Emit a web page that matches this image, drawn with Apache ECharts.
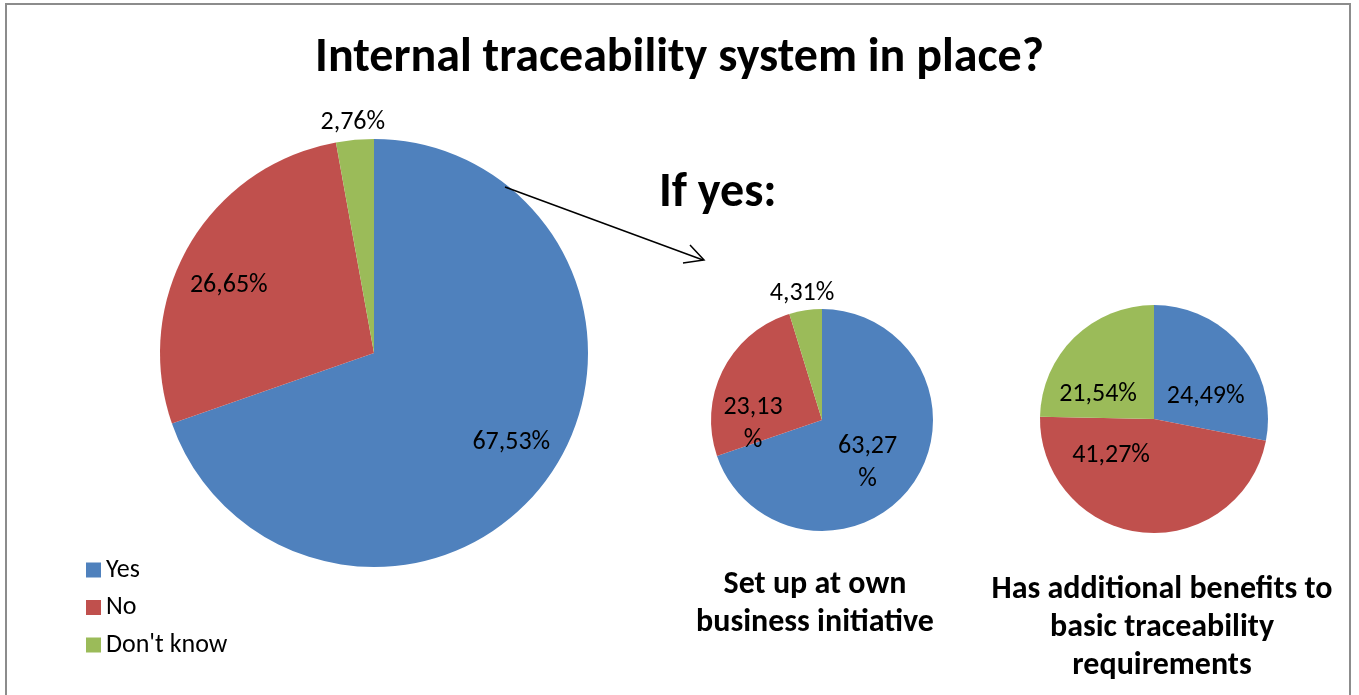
<!DOCTYPE html>
<html><head><meta charset="utf-8">
<script src="https://cdn.jsdelivr.net/npm/echarts@6/dist/echarts.min.js"></script>
<style>html,body{margin:0;padding:0;background:#fff}#c{width:1359px;height:695px}</style>
</head><body><div id="c"></div>
<script>
const categories = ['Yes', 'No', "Don't know"];
const mainValues = [67.53, 26.65, 2.76];
const ownInitiativeValues = [63.27, 23.13, 4.31];
const benefitsValues = [24.49, 41.27, 21.54];
const mainLabels = ['67,53%', '26,65%', '2,76%'];
const ownInitiativeLabels = ['63,27\n%', '23,13\n%', '4,31%'];
const benefitsLabels = ['24,49%', '41,27%', '21,54%'];
const titleText = 'Internal traceability system in place?';
const subTitle = 'If yes:';
const pieTitles = ['Set up at own\nbusiness initiative', 'Has additional benefits to\nbasic traceability\nrequirements'];

const colors = ['#4F81BD', '#C0504D', '#9BBB59'];
const FONT = 'Carlito, Lato, "Open Sans", sans-serif';

function buildPie(values, labels, center, r, innerRatio, outsideIdx, offsets) {
  const base = {
    type: 'pie', center: center, radius: [0, r], startAngle: 90, clockwise: true,
    animation: false, silent: true,
    label: { show: false }, labelLine: { show: false },
    itemStyle: { borderWidth: 0 },
    data: values.map((v, i) => ({ name: categories[i], value: v }))
  };
  const inner = {
    type: 'pie', center: center, radius: [r * innerRatio, r], startAngle: 90, clockwise: true,
    animation: false, silent: true, legendHoverLink: false,
    itemStyle: { color: 'rgba(0,0,0,0)' },
    labelLine: { show: false },
    data: values.map((v, i) => ({
      name: categories[i], value: v,
      label: {
        show: outsideIdx.indexOf(i) < 0, position: 'inside', formatter: labels[i],
        color: '#000', fontSize: 26, fontFamily: FONT, lineHeight: 33,
        offset: (offsets && offsets[i]) || [0, 0]
      }
    }))
  };
  const outer = {
    type: 'pie', center: center, radius: [r, r + 40], startAngle: 90, clockwise: true,
    animation: false, silent: true, legendHoverLink: false,
    itemStyle: { color: 'rgba(0,0,0,0)' },
    labelLine: { show: false },
    data: values.map((v, i) => ({
      name: categories[i], value: v,
      label: {
        show: outsideIdx.indexOf(i) >= 0, position: 'inside', formatter: labels[i],
        color: '#000', fontSize: 26, fontFamily: FONT, offset: [0, 6]
      }
    }))
  };
  return [base, inner, outer];
}

const chart = echarts.init(document.getElementById('c'));
const series = [].concat(
  buildPie(mainValues, mainLabels, [374, 353], 214, 0.5, [2], [[4, -5], [-4, 15]]),
  buildPie(ownInitiativeValues, ownInitiativeLabels, [822, 420], 111, 0.2, [2], [[-11, 3], [-7, 36]]),
  buildPie(benefitsValues, benefitsLabels, [1154, 419], 114, 0.1, [], [[1, 19], [-36, -29], [-10, 22]])
);

chart.setOption({
  backgroundColor: '#fff',
  color: colors,
  animation: false,
  title: [
    { text: titleText, left: 'center', top: 30, padding: 0, textStyle: { fontSize: 48, fontWeight: 'bold', fontFamily: FONT, color: '#000', lineHeight: 58 } },
    { text: subTitle, left: 659, top: 165, padding: 0, textStyle: { fontSize: 48, fontWeight: 'bold', fontFamily: FONT, color: '#000', lineHeight: 58 } },
    { text: pieTitles[0], left: 815, top: 566, padding: 0, textAlign: 'center', textStyle: { fontSize: 32, fontWeight: 'bold', fontFamily: FONT, color: '#000', lineHeight: 38 } },
    { text: pieTitles[1], left: 1162, top: 571, padding: 0, textAlign: 'center', textStyle: { fontSize: 32, fontWeight: 'bold', fontFamily: FONT, color: '#000', lineHeight: 38 } }
  ],
  legend: {
    data: categories, orient: 'vertical', left: 86, top: 557, padding: 0,
    icon: 'rect', itemWidth: 15, itemHeight: 15, itemGap: 11.5, itemTextGap: 7,
    selectedMode: false,
    textStyle: { fontSize: 26, fontFamily: FONT, color: '#000', lineHeight: 26 }
  },
  graphic: [
    { type: 'rect', shape: { x: 6, y: 4, width: 1344, height: 700 }, style: { fill: 'none', stroke: '#8c8c8c', lineWidth: 2 }, z: 100 },
    { type: 'line', shape: { x1: 505, y1: 187, x2: 703, y2: 260 }, style: { stroke: '#000', lineWidth: 1.5 }, z: 100 },
    { type: 'polyline', shape: { points: [[690, 245], [704, 260], [683, 263]] }, style: { stroke: '#000', lineWidth: 1.5, fill: 'none' }, z: 100 }
  ],
  series: series
});
</script>
</body></html>
